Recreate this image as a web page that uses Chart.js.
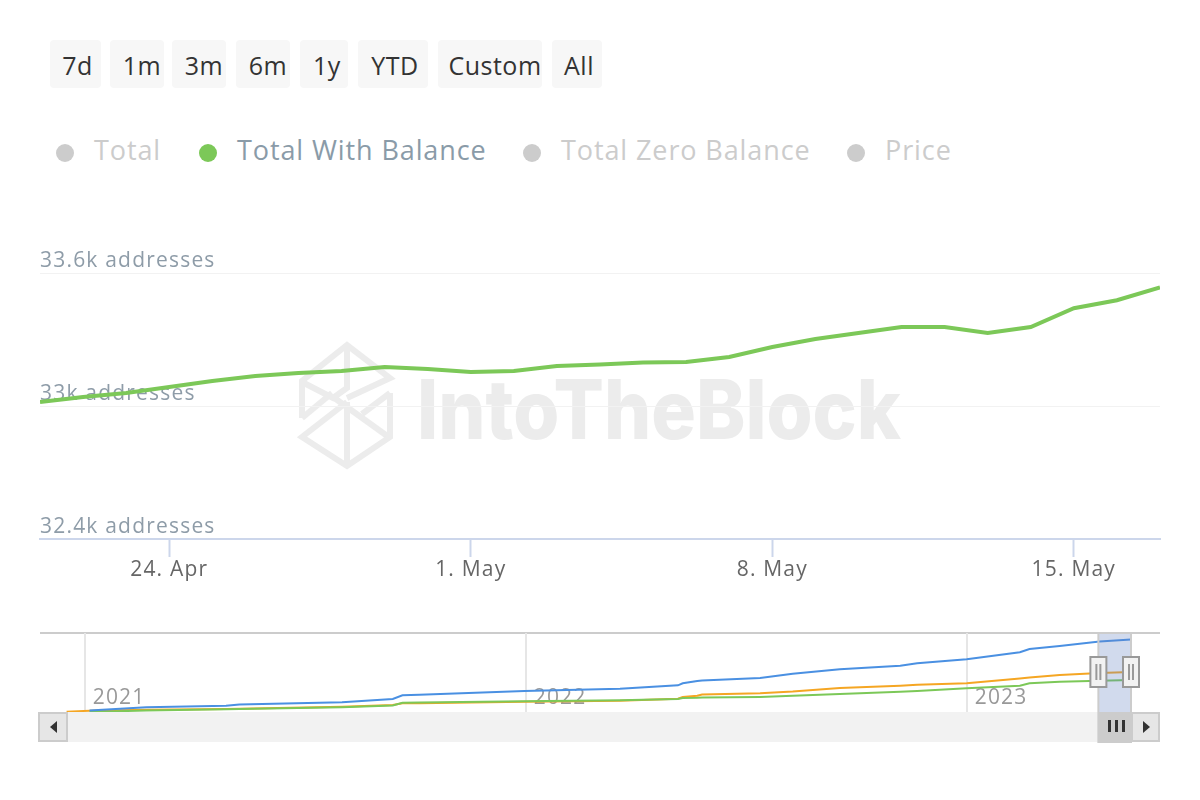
<!DOCTYPE html>
<html>
<head>
<meta charset="utf-8">
<title>Total With Balance</title>
<script src="https://cdn.jsdelivr.net/npm/chart.js@4"></script>
<style>
  html, body { margin: 0; padding: 0; background: #fff; }
  body { width: 1200px; height: 800px; position: relative; overflow: hidden; font-family: "Open Sans", sans-serif; }
  canvas { position: absolute; left: 0; }
  .btn { position: absolute; top: 40px; height: 48px; line-height: 50px; box-sizing: border-box; background: #f7f7f7; border-radius: 4px; color: #333; font-size: 25px; text-align: center; letter-spacing: 0.5px; }
  .leg { position: absolute; top: 132px; font-size: 27px; line-height: 36px; color: #cccccc; white-space: nowrap; letter-spacing: 0.9px; }
  .leg.on { color: #8a9ba8; }
  .dot { position: absolute; top: 144px; width: 18px; height: 18px; border-radius: 50%; background: #cccccc; }
  .dot.on { background: #7cc858; }
  .bar { position: absolute; box-sizing: border-box; }
  .arrow { position: absolute; width: 0; height: 0; border-style: solid; }
</style>
</head>
<body>

<!-- watermark sits behind the canvas -->
<svg width="1200" height="800" style="position:absolute;left:0;top:0">
  <g fill="none" stroke="#ececec" stroke-width="6">
    <path d="M302 418 L302 381 L347 345 L390 378 L347 398"/>
    <path d="M347 345 L347 388 L333 398 L302 382"/>
    <path d="M302 418 L332 393"/>
    <path d="M333 397 L390 438"/>
    <path d="M390 393 L390 437 L347 466 L302 437 L347 402"/>
    <path d="M390 393 L362 414"/>
    <path d="M347 402 L347 466"/>
  </g>
  <text x="417" y="439" font-family="Inter, Roboto, sans-serif" font-weight="800" font-size="82" fill="#ececec" textLength="484" lengthAdjust="spacingAndGlyphs">IntoTheBlock</text>
</svg>

<div class="btn" style="left:50px;width:51px;padding-left:4px">7d</div>
<div class="btn" style="left:110px;width:54px;padding-left:10px">1m</div>
<div class="btn" style="left:172px;width:54px;padding-left:10px">3m</div>
<div class="btn" style="left:236px;width:54px;padding-left:10px">6m</div>
<div class="btn" style="left:300px;width:48px;padding-left:6px">1y</div>
<div class="btn" style="left:358px;width:70px;padding-left:4px">YTD</div>
<div class="btn" style="left:438px;width:104px;padding-left:10px">Custom</div>
<div class="btn" style="left:552px;width:50px;padding-left:4px">All</div>

<div class="dot" style="left:56px"></div><div class="leg" style="left:94px">Total</div>
<div class="dot on" style="left:199px"></div><div class="leg on" style="left:237px">Total With Balance</div>
<div class="dot" style="left:523px"></div><div class="leg" style="left:561px">Total Zero Balance</div>
<div class="dot" style="left:847px"></div><div class="leg" style="left:885px">Price</div>

<!-- scrollbar under the navigator -->
<div class="bar" style="left:38px;top:712px;width:1122px;height:30px;background:#f2f2f2"></div>
<div class="bar" style="left:38px;top:712px;width:30px;height:30px;background:#e6e6e6;border:2px solid #cccccc"></div>
<div class="arrow" style="left:50px;top:721px;border-width:6px 7px 6px 0;border-color:transparent #333 transparent transparent"></div>
<div class="bar" style="left:1131px;top:712px;width:29px;height:30px;background:#e6e6e6;border:2px solid #cccccc"></div>
<div class="arrow" style="left:1143px;top:721px;border-width:6px 0 6px 7px;border-color:transparent transparent transparent #333"></div>
<div class="bar" style="left:1099px;top:712px;width:32px;height:30px;background:#cccccc"></div>
<div class="bar" style="left:1108px;top:720px;width:3px;height:12px;background:#333"></div>
<div class="bar" style="left:1115px;top:720px;width:3px;height:12px;background:#333"></div>
<div class="bar" style="left:1122px;top:720px;width:3px;height:12px;background:#333"></div>
<div class="bar" style="left:40px;top:632px;width:1120px;height:2px;background:#cccccc"></div>

<canvas id="mainChart" width="1200" height="610" style="top:0"></canvas>
<canvas id="navChart" width="1200" height="130" style="top:620px"></canvas>

<script>
// |------------------------------- Data -------------------------------|

// main chart, one value a day from 21 Apr to 17 May
var dayNumbers = [0, 1, 2, 3, 4, 5, 6, 7, 8, 9, 10, 11, 12, 13, 14, 15, 16, 17, 18, 19, 20, 21, 22, 23, 24, 25, 26];
var withBalance = [33018, 33041, 33059, 33086, 33113, 33135, 33149, 33158, 33176, 33167, 33153, 33158, 33180, 33187, 33196, 33198, 33221, 33266, 33302, 33329, 33356, 33356, 33329, 33356, 33441, 33477, 33535];
var dateTicks = [3, 10, 17, 24];
var dateLabels = ['24. Apr', '1. May', '8. May', '15. May'];

// navigator, days since 1 Jan 2021
var navDays = [-15, 4, 51, 117, 128, 213, 255, 263, 277, 364, 443, 491, 495, 507, 511, 559, 586, 625, 675, 689, 730, 774, 782, 807, 840, 866];
var navTotal = [null, 1570, 4920, 6600, 7850, 10160, 13610, 17480, 18110, 21990, 24400, 27950, 30050, 32460, 32980, 35600, 40100, 44710, 48480, 50990, 55180, 62510, 65960, 69100, 73810, 75910];
var navZero = [310, 1360, 2410, 3140, 3460, 5550, 7330, 9110, 9210, 10780, 11830, 13930, 15700, 16960, 18320, 19680, 21460, 25130, 27540, 28580, 30050, 35070, 36120, 38740, 40830, 41880];
var navBalance = [null, 0, 1570, 2830, 3140, 5030, 6810, 9630, 9950, 11200, 12250, 13610, 14660, 14870, 15080, 15810, 16960, 18850, 21250, 21990, 24810, 27540, 30050, 31620, 32770, 33500];
var yearTicks = [0, 365, 730];
var yearLabels = ['2021', '2022', '2023'];
var selectedFrom = 839;
var selectedTo = 866;

// the labels in the reference are spaced out a bit
var spacingPlugin = {
  id: 'spacing',
  beforeDraw: function (chart) { chart.ctx.letterSpacing = '1.2px'; }
};

// |------------------------------- Main chart -------------------------------|

new Chart(document.getElementById('mainChart'), {
  type: 'line',
  data: {
    datasets: [{
      label: 'Total With Balance',
      data: dayNumbers.map(function (d, i) { return { x: d, y: withBalance[i] }; }),
      borderColor: '#7cc858',
      borderWidth: 4,
      pointRadius: 0,
      tension: 0
    }]
  },
  options: {
    responsive: false,
    animation: false,
    layout: { padding: { left: 40, right: 40, top: 273, bottom: 0 } },
    plugins: { legend: { display: false }, tooltip: { enabled: false } },
    scales: {
      x: {
        type: 'linear',
        min: 0,
        max: 26,
        afterBuildTicks: function (scale) {
          scale.ticks = dateTicks.map(function (v) { return { value: v }; });
        },
        afterFit: function (scale) { scale.height = 71; },
        grid: { drawOnChartArea: false, tickColor: '#ccd6eb', tickLength: 18, tickWidth: 2 },
        border: { color: '#ccd6eb', width: 2 },
        ticks: {
          autoSkip: false,
          maxRotation: 0,
          padding: 0,
          color: '#666666',
          font: { family: 'Open Sans', size: 21 },
          callback: function (v) { return dateLabels[dateTicks.indexOf(v)]; }
        }
      },
      y: {
        min: 32400,
        max: 33600,
        afterBuildTicks: function (scale) {
          scale.ticks = [{ value: 32400 }, { value: 33000 }, { value: 33600 }];
        },
        afterFit: function (scale) { scale.width = 0; },
        grid: { color: '#f2f2f2', drawTicks: false },
        border: { display: false },
        ticks: {
          mirror: true,
          padding: 0,
          labelOffset: -12,
          color: '#8e9ca8',
          font: { family: 'Open Sans', size: 21 },
          callback: function (v) { return (v / 1000) + 'k addresses'; }
        }
      }
    }
  },
  plugins: [spacingPlugin]
});

// |------------------------------- Navigator -------------------------------|

// selection band and the two handles, placed through the x scale
var selectionPlugin = {
  id: 'selection',
  afterDatasetsDraw: function (chart) {
    var c = chart.ctx, a = chart.chartArea, x = chart.scales.x;
    var x1 = x.getPixelForValue(selectedFrom), x2 = x.getPixelForValue(selectedTo);
    c.save();
    c.fillStyle = 'rgba(102,133,194,0.3)';
    c.fillRect(x1, a.top, x2 - x1, a.bottom - a.top);
    c.strokeStyle = '#cccccc';
    c.lineWidth = 2;
    c.strokeRect(x1, a.top, x2 - x1, a.bottom - a.top + 30);
    [x1, x2].forEach(function (px) {
      c.fillStyle = '#f2f2f2';
      c.strokeStyle = '#999999';
      c.lineWidth = 2;
      c.fillRect(px - 8, a.top + 24, 16, 30);
      c.strokeRect(px - 8, a.top + 24, 16, 30);
      c.beginPath();
      c.moveTo(px - 2, a.top + 31); c.lineTo(px - 2, a.top + 47);
      c.moveTo(px + 2, a.top + 31); c.lineTo(px + 2, a.top + 47);
      c.stroke();
    });
    c.restore();
  }
};

function navLine(values, color) {
  return {
    data: navDays.map(function (d, i) { return { x: d, y: values[i] }; }),
    borderColor: color,
    borderWidth: 2,
    pointRadius: 0,
    tension: 0
  };
}

new Chart(document.getElementById('navChart'), {
  type: 'line',
  data: {
    datasets: [
      navLine(navTotal, '#4a90e2'),
      navLine(navBalance, '#7cc858'),
      navLine(navZero, '#f5a623')
    ]
  },
  options: {
    responsive: false,
    animation: false,
    layout: { padding: { left: 40, right: 40, top: 13, bottom: 0 } },
    plugins: { legend: { display: false }, tooltip: { enabled: false } },
    scales: {
      x: {
        type: 'linear',
        min: -37,
        max: 890,
        afterBuildTicks: function (scale) {
          scale.ticks = yearTicks.map(function (v) { return { value: v }; });
        },
        afterFit: function (scale) { scale.height = 38; },
        grid: { color: '#e6e6e6', drawTicks: false, lineWidth: 2 },
        border: { display: false },
        ticks: {
          autoSkip: false,
          maxRotation: 0,
          mirror: true, // keeps the labels from being clipped to the axis box
          align: 'start',
          padding: 1,
          labelOffset: 8,
          color: '#999999',
          font: { family: 'Open Sans', size: 21 },
          callback: function (v) { return yearLabels[yearTicks.indexOf(v)]; }
        }
      },
      y: {
        display: false,
        min: 0,
        max: 82700
      }
    }
  },
  plugins: [spacingPlugin, selectionPlugin]
});
</script>
</body>
</html>
